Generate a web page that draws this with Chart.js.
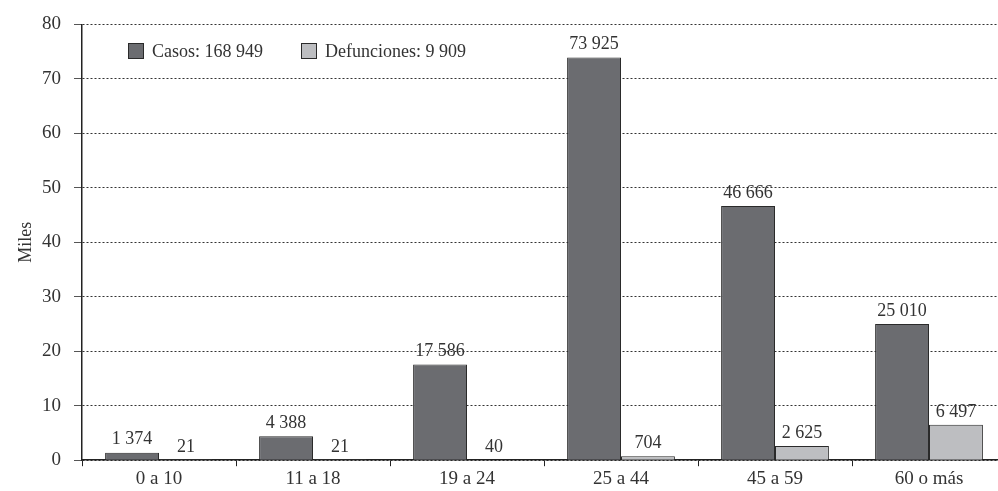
<!DOCTYPE html>
<html>
<head>
<meta charset="utf-8">
<script src="https://cdn.jsdelivr.net/npm/chart.js@4.4.1/dist/chart.umd.min.js"></script>
<style>
  html, body { margin: 0; padding: 0; background: #fff; overflow: hidden; }
  #wrap { width: 998px; height: 491px; position: relative; overflow: hidden; }
  #c { width: 1006px; height: 491px; display: block; }
</style>
</head>
<body>
<div id="wrap"><canvas id="c" width="1006" height="491"></canvas></div>
<script>
// Age groups and counts (people)
const categories = ['0 a 10', '11 a 18', '19 a 24', '25 a 44', '45 a 59', '60 o más'];
const casos = [1374, 4388, 17586, 73925, 46666, 25010];
const defunciones = [21, 21, 40, 704, 2625, 6497];
const casosTotal = 168949;
const defuncionesTotal = 9909;
const yTicks = [0, 10, 20, 30, 40, 50, 60, 70, 80];

const FONT = '"Liberation Serif", "DejaVu Serif", serif';
const INK = '#333';

// thousands grouped with a space: 73925 -> "73 925"
function fmt(n) {
  return String(n).replace(/\B(?=(\d{3})+(?!\d))/g, ' ');
}

const COLORS = { casos: '#6b6c70', def: '#bdbec1', edge: '#2a2a2a' };

// value labels above each bar
const barLabels = {
  id: 'barLabels',
  afterDatasetsDraw(chart) {
    const ctx = chart.ctx;
    ctx.save();
    ctx.font = '18px ' + FONT;
    ctx.fillStyle = INK;
    ctx.textAlign = 'center';
    ctx.textBaseline = 'bottom';
    chart.data.datasets.forEach((ds, i) => {
      chart.getDatasetMeta(i).data.forEach((bar, j) => {
        ctx.fillText(fmt(ds.raw[j]), bar.x, bar.y - 4);
      });
    });
    ctx.restore();
  }
};

// legend drawn inside the plot area, top-left
const innerLegend = {
  id: 'innerLegend',
  afterDraw(chart) {
    const ctx = chart.ctx;
    const items = [
      { color: COLORS.casos, text: 'Casos: ' + fmt(casosTotal), x: 128 },
      { color: COLORS.def, text: 'Defunciones: ' + fmt(defuncionesTotal), x: 301 }
    ];
    ctx.save();
    ctx.font = '18px ' + FONT;
    ctx.textBaseline = 'middle';
    items.forEach(it => {
      const y = 51;
      ctx.fillStyle = it.color;
      ctx.fillRect(it.x + 0.5, y - 7.5, 15, 15);
      ctx.strokeStyle = COLORS.edge;
      ctx.lineWidth = 1;
      ctx.strokeRect(it.x + 0.5, y - 7.5, 15, 15);
      ctx.fillStyle = INK;
      ctx.fillText(it.text, it.x + 24, y + 1);
    });
    ctx.restore();
  }
};

new Chart(document.getElementById('c'), {
  type: 'bar',
  data: {
    labels: categories,
    datasets: [
      {
        label: 'Casos',
        raw: casos,
        data: casos.map(v => v / 1000),
        backgroundColor: COLORS.casos,
        borderColor: COLORS.edge,
        borderWidth: 1,
        categoryPercentage: 0.7,
        barPercentage: 1.0
      },
      {
        label: 'Defunciones',
        raw: defunciones,
        data: defunciones.map(v => v / 1000),
        backgroundColor: COLORS.def,
        borderColor: COLORS.edge,
        borderWidth: 1,
        categoryPercentage: 0.7,
        barPercentage: 1.0
      }
    ]
  },
  options: {
    responsive: false,
    animation: false,
    layout: { padding: { top: 18, right: 0, left: 0, bottom: 0 } },
    plugins: {
      legend: { display: false },
      tooltip: { enabled: false }
    },
    scales: {
      x: {
        offset: true,
        grid: {
          offset: true,
          drawOnChartArea: false,
          drawTicks: true,
          tickLength: 6,
          color: '#222',
          lineWidth: 1
        },
        border: { display: true, color: '#222', width: 1.5 },
        ticks: {
          color: INK,
          font: { family: FONT, size: 19 },
          padding: 1,
          maxRotation: 0
        }
      },
      y: {
        min: 0,
        max: 80,
        afterBuildTicks(axis) {
          axis.ticks = yTicks.map(v => ({ value: v }));
        },
        afterFit(axis) { axis.width = 82; },
        grid: {
          color: '#333',
          lineWidth: 1,
          tickBorderDash: [],
          tickColor: '#555',
          drawTicks: true,
          tickLength: 8
        },
        border: { display: true, color: '#222', width: 1.5, dash: [2, 2] },
        title: {
          display: true,
          text: 'Miles',
          color: INK,
          font: { family: FONT, size: 18 },
          padding: { top: 15, bottom: 0 }
        },
        ticks: {
          color: INK,
          font: { family: FONT, size: 19 },
          padding: 13
        }
      }
    }
  },
  plugins: [barLabels, innerLegend]
});
</script>
</body>
</html>
